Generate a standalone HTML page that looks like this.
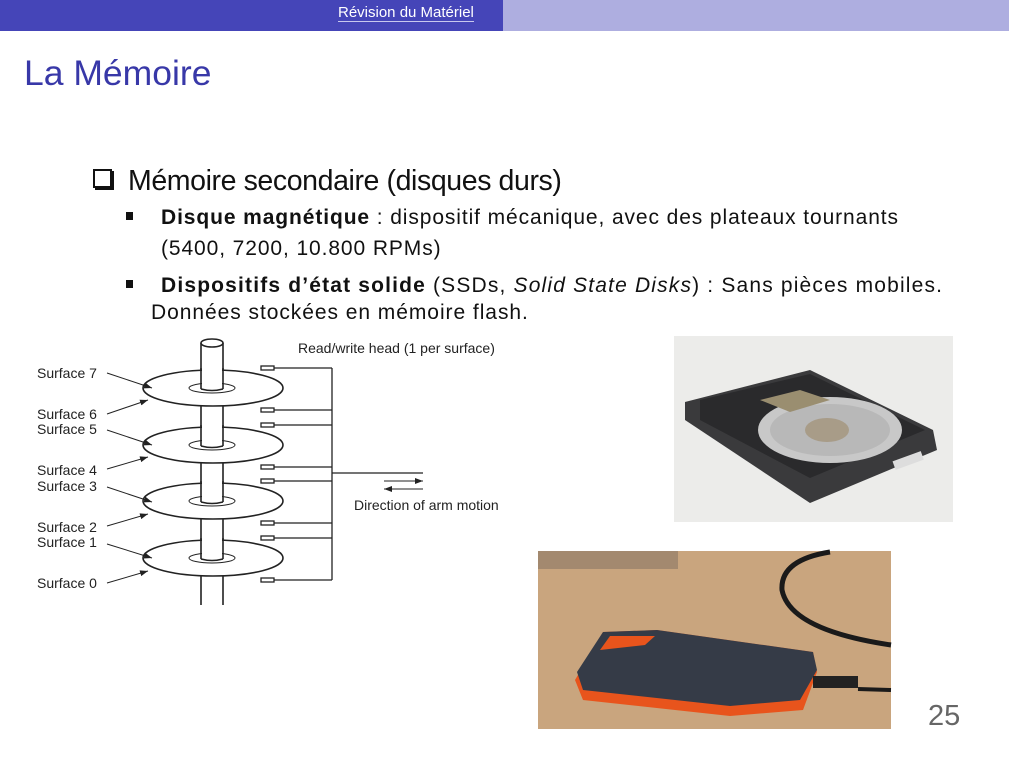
<!DOCTYPE html>
<html><head><meta charset="utf-8"><style>
body{margin:0;width:1009px;height:757px;position:relative;background:#fff;overflow:hidden;font-family:"Liberation Sans",sans-serif}
.a{position:absolute;white-space:nowrap}
.s{font-size:21px;letter-spacing:0.9px;color:#111}
</style></head><body>
<div class="a" style="left:0;top:0;width:503px;height:31px;background:#4545b8"></div>
<div class="a" style="left:503px;top:0;width:506px;height:31px;background:#aeaee0"></div>
<div class="a" style="left:338px;top:4px;font-size:15px;color:#fff;border-bottom:1px solid #c8c8ee;line-height:17px">Révision du Matériel</div>
<div class="a" style="left:24px;top:53px;font-size:35.5px;color:#3838a8">La Mémoire</div>
<div class="a" style="left:93px;top:165px;font-size:28.5px;color:#111;letter-spacing:-0.4px"><span style="display:inline-block;width:15px;height:15px;border:2px solid #111;box-shadow:2px 2px 0 #111;margin-right:16px;vertical-align:2px"></span>Mémoire secondaire (disques durs)</div>
<div class="a s" style="left:126px;top:206px"><span style="display:inline-block;width:7px;height:8px;background:#111;margin-right:28px;vertical-align:4px"></span><b>Disque magnétique</b> : dispositif mécanique, avec des plateaux tournants</div>
<div class="a s" style="left:161px;top:237px">(5400, 7200, 10.800 RPMs)</div>
<div class="a s" style="left:126px;top:274px;letter-spacing:1.17px"><span style="display:inline-block;width:7px;height:8px;background:#111;margin-right:28px;vertical-align:4px"></span><b>Dispositifs d’état solide</b> (SSDs, <i>Solid State Disks</i>) : Sans pièces mobiles.</div>
<div class="a s" style="left:151px;top:301px;letter-spacing:0.95px">Données stockées en mémoire flash.</div>
<div class="a" style="left:928px;top:700px;font-size:29px;color:#666">25</div>

<svg class="a" style="left:0;top:0" width="1009" height="757">
<defs><marker id="ar" markerWidth="8" markerHeight="6" refX="8" refY="3" orient="auto" markerUnits="userSpaceOnUse"><path d="M0,0L8,3L0,6z" fill="#222"/></marker></defs>
<g stroke="#222" stroke-width="1.6" fill="#fff">
<rect x="201" y="343" width="22" height="262" stroke="none"/>
<line x1="201" y1="343" x2="201" y2="605"/><line x1="223" y1="343" x2="223" y2="605"/>
<ellipse cx="212" cy="343" rx="11" ry="4"/>
<g id="d">
<ellipse cx="213" cy="388" rx="70" ry="18"/>
<ellipse cx="212" cy="388" rx="23" ry="5" stroke-width="1"/>
<rect x="202" y="368" width="20" height="21" stroke="none"/>
<line x1="201" y1="368" x2="201" y2="389"/><line x1="223" y1="368" x2="223" y2="389"/>
<path d="M201,389 Q212,392 223,389" fill="none"/>
</g>
<use href="#d" y="57"/><use href="#d" y="113"/><use href="#d" y="170"/>
<g stroke-width="1.3">
<rect x="261" y="366" width="13" height="4"/><rect x="261" y="408" width="13" height="4"/><rect x="261" y="423" width="13" height="4"/><rect x="261" y="465" width="13" height="4"/><rect x="261" y="479" width="13" height="4"/><rect x="261" y="521" width="13" height="4"/><rect x="261" y="536" width="13" height="4"/><rect x="261" y="578" width="13" height="4"/>
<path d="M274,368H332M274,410H332M274,425H332M274,467H332M274,481H332M274,523H332M274,538H332M274,580H332M332,368V580M332,473H423" fill="none"/>
</g>
<g stroke-width="1" fill="none" marker-end="url(#ar)">
<line x1="384" y1="481" x2="423" y2="481"/>
<line x1="423" y1="489" x2="384" y2="489"/>
<line x1="107" y1="373" x2="152" y2="388"/>
<line x1="107" y1="414" x2="148" y2="400"/>
<line x1="107" y1="430" x2="152" y2="445"/>
<line x1="107" y1="469" x2="148" y2="457"/>
<line x1="107" y1="487" x2="152" y2="502"/>
<line x1="107" y1="526" x2="148" y2="514"/>
<line x1="107" y1="544" x2="152" y2="558"/>
<line x1="107" y1="583" x2="148" y2="571"/>
</g>
</g>
<g font-size="14" fill="#222" font-family="Liberation Sans,sans-serif">
<text x="298" y="353">Read/write head (1 per surface)</text>
<text x="354" y="510">Direction of arm motion</text>
<text x="37" y="378">Surface 7</text><text x="37" y="419">Surface 6</text><text x="37" y="434">Surface 5</text><text x="37" y="475">Surface 4</text><text x="37" y="491">Surface 3</text><text x="37" y="532">Surface 2</text><text x="37" y="547">Surface 1</text><text x="37" y="588">Surface 0</text>
</g>
<rect x="674" y="336" width="279" height="186" fill="#ececea"/>
<polygon points="685,402 810,370 933,430 937,450 810,503 685,420" fill="#3a3a3c"/>
<polygon points="700,400 810,374 925,430 810,478 700,420" fill="#2a2a2c"/>
<ellipse cx="830" cy="430" rx="72" ry="33" fill="#c8c8c8"/>
<ellipse cx="830" cy="430" rx="60" ry="26" fill="#b8b8b8"/>
<ellipse cx="827" cy="430" rx="22" ry="12" fill="#a89c88"/>
<path d="M760,400 L800,390 L830,400 L790,412z" fill="#9a8e70"/>
<rect x="893" y="456" width="30" height="9" fill="#ddd" transform="rotate(-20 908 460)"/>
<rect x="538" y="551" width="353" height="178" fill="#c9a57e"/>
<rect x="538" y="551" width="140" height="18" fill="#8a7666" opacity=".6"/>
<path d="M891,645 Q790,630 782,590 Q780,560 830,552" fill="none" stroke="#1a1a1a" stroke-width="5"/>
<polygon points="575,680 603,632 657,630 813,652 817,672 803,710 730,716 583,700" fill="#e8541c"/>
<polygon points="577,672 603,632 657,630 813,652 817,670 800,700 730,706 583,690" fill="#353b47"/>
<path d="M600,650 L610,636 L655,636 L645,645z" fill="#e8541c"/>
<rect x="813" y="676" width="45" height="12" fill="#222"/>
<line x1="858" y1="689" x2="891" y2="690" stroke="#1a1a1a" stroke-width="4"/>
</svg>
</body></html>
